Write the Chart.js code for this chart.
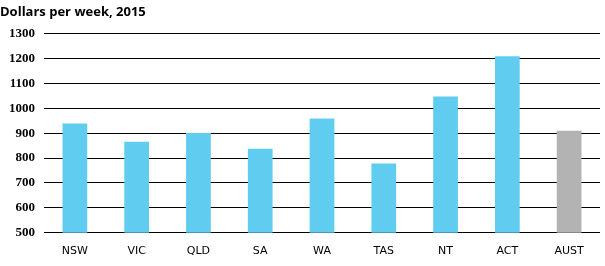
<!DOCTYPE html>
<html>
<head>
<meta charset="utf-8">
<script src="https://cdn.jsdelivr.net/npm/chart.js@4"></script>
<style>
  body { margin: 0; background: #fff; }
  #wrap { width: 605px; height: 266px; }
</style>
</head>
<body>
<div id="wrap"><canvas id="chart" width="605" height="266"></canvas></div>
<script>
const states = ["NSW", "VIC", "QLD", "SA", "WA", "TAS", "NT", "ACT", "AUST"];
const weeklyEarnings = [939, 866, 901, 838, 959, 778, 1047, 1209, 910];
const barColors = ["#5FCCF0", "#5FCCF0", "#5FCCF0", "#5FCCF0", "#5FCCF0", "#5FCCF0", "#5FCCF0", "#5FCCF0", "#B3B3B3"];
const yTicks = [500, 600, 700, 800, 900, 1000, 1100, 1200, 1300];

const ctx = document.getElementById("chart").getContext("2d");

new Chart(ctx, {
  type: "bar",
  data: {
    labels: states,
    datasets: [{
      label: "Dollars per week, 2015",
      data: weeklyEarnings,
      backgroundColor: barColors,
      borderWidth: 0,
      categoryPercentage: 1,
      barPercentage: 0.4
    }]
  },
  options: {
    responsive: false,
    animation: false,
    layout: { padding: { left: 0, right: 5, top: 0, bottom: 4 } },
    plugins: {
      legend: { display: false },
      tooltip: { enabled: false },
      title: {
        display: true,
        text: "Dollars per week, 2015",
        align: "start",
        color: "#000",
        font: { family: "Open Sans", size: 13, weight: "bold" },
        padding: { top: 4, bottom: 14 }
      }
    },
    scales: {
      x: {
        grid: { display: false },
        border: { display: false },
        ticks: {
          color: "#000",
          font: { family: "DejaVu Sans", size: 11 },
          padding: 4
        }
      },
      y: {
        min: yTicks[0],
        max: yTicks[yTicks.length - 1],
        afterBuildTicks: axis => { axis.ticks = yTicks.map(v => ({ value: v })); },
        grid: { color: "#000", lineWidth: 1, drawTicks: false },
        border: { display: false },
        ticks: {
          color: "#000",
          font: { family: "Liberation Serif", size: 13, weight: "bold" },
          padding: 9,
          callback: v => String(v)
        }
      }
    }
  }
});
</script>
</body>
</html>
